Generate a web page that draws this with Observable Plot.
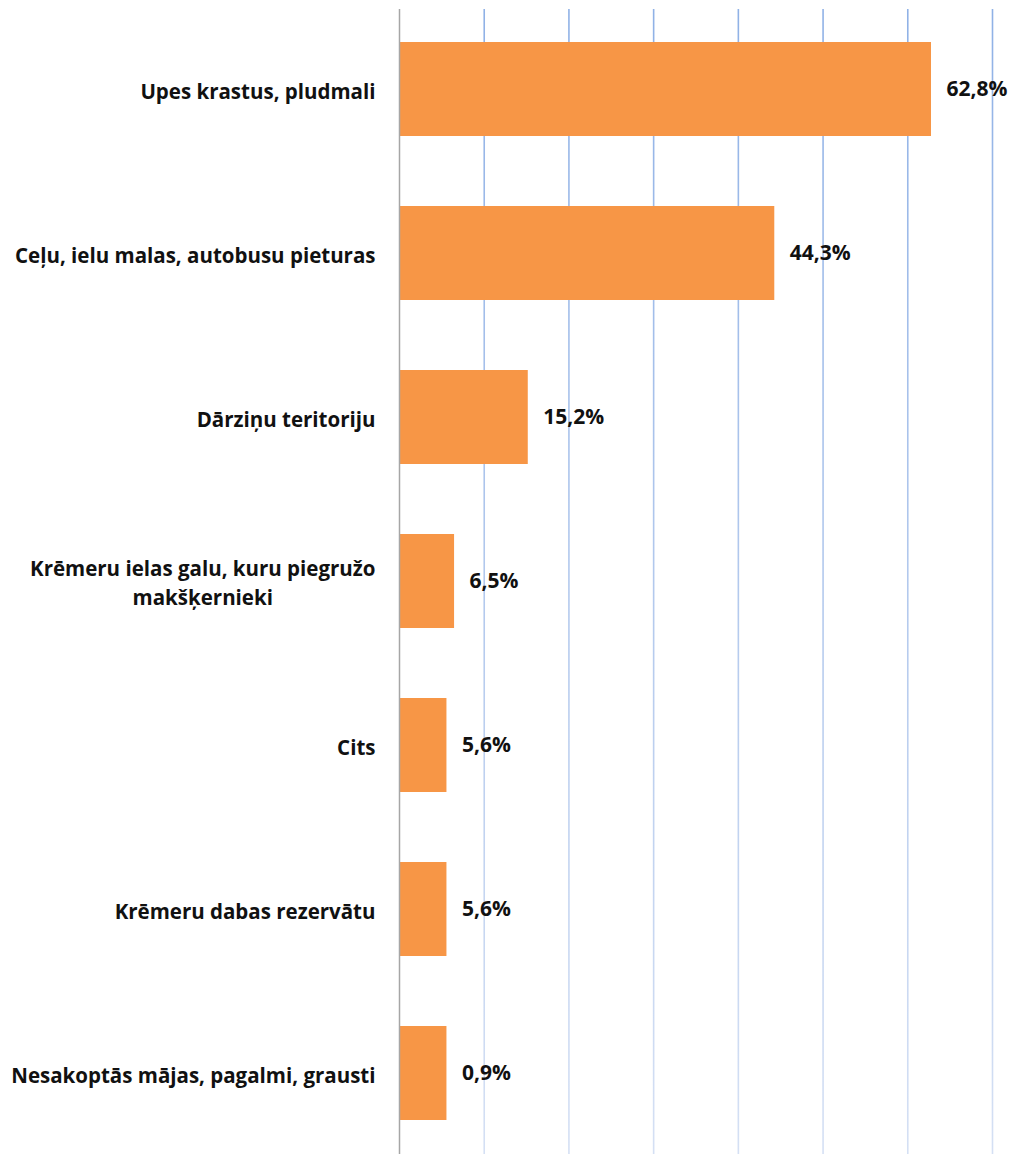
<!DOCTYPE html>
<html>
<head>
<meta charset="utf-8">
<script src="https://cdn.jsdelivr.net/npm/d3@7"></script>
<script src="https://cdn.jsdelivr.net/npm/@observablehq/plot@0.6"></script>
<style>
  html, body { margin: 0; padding: 0; background: #fff; }
  #chart svg { display: block; }
</style>
</head>
<body>
<div id="chart"></div>
<script>
const categories = [
  "Upes krastus, pludmali",
  "Ceļu, ielu malas, autobusu pieturas",
  "Dārziņu teritoriju",
  "Krēmeru ielas galu, kuru piegružo\nmakšķernieki",
  "Cits",
  "Krēmeru dabas rezervātu",
  "Nesakoptās mājas, pagalmi, grausti"
];
const barValues = [62.8, 44.3, 15.2, 6.5, 5.6, 5.6, 5.6];
const valueLabels = ["62,8%", "44,3%", "15,2%", "6,5%", "5,6%", "5,6%", "0,9%"];
const gridTicks = [10, 20, 30, 40, 50, 60, 70];

const data = categories.map((c, i) => ({cat: c, value: barValues[i], label: valueLabels[i]}));
const font = "'Open Sans', sans-serif";

const chart = Plot.plot({
  width: 1018,
  height: 1154,
  marginLeft: 399,
  marginRight: 26,
  marginTop: 9,
  marginBottom: 0,
  style: {fontFamily: font, background: "#fff"},
  x: {domain: [0, 70], axis: null},
  y: {domain: categories, axis: null, paddingInner: 0.426, paddingOuter: 0.2},
  marks: [
    Plot.ruleX(gridTicks, {stroke: "url(#gridGrad)", strokeWidth: 1.6}),
    Plot.barX(data, {x: "value", y: "cat", fill: "#f79646"}),
    Plot.ruleX([0], {stroke: "#a6a6a6", strokeWidth: 1.5}),
    Plot.text(data, {x: "value", y: "cat", text: "label", textAnchor: "start", dx: 15,
      fontSize: 21, fontWeight: "bold", fill: "#111"}),
    Plot.text(data, {x: 0, y: "cat", text: "cat", textAnchor: "end", dx: -24,
      fontSize: 20.5, fontWeight: "bold", fill: "#111", lineHeight: 1.37, className: "ylab"})
  ]
});

// gradient for grid lines (bluer at top, paler at bottom)
const defs = document.createElementNS("http://www.w3.org/2000/svg", "defs");
defs.innerHTML = `<linearGradient id="gridGrad" gradientUnits="userSpaceOnUse" x1="0" y1="0" x2="0" y2="1154">
  <stop offset="0" stop-color="#8fb1e6"/>
  <stop offset="1" stop-color="#d5e0f4"/>
</linearGradient>`;
chart.insertBefore(defs, chart.firstChild);

document.getElementById("chart").appendChild(chart);

// center multi-line category labels (like the reference)
chart.querySelectorAll("g.ylab text").forEach(t => {
  const spans = t.querySelectorAll("tspan");
  if (spans.length > 1) {
    const bb = t.getBBox();
    const center = bb.x + bb.width / 2;
    t.setAttribute("text-anchor", "middle");
    const cur = t.getBBox();
    const shift = center - (cur.x + cur.width / 2);
    const tr = t.getAttribute("transform") || "";
    t.setAttribute("transform", tr + ` translate(${shift},0)`);
  }
});
</script>
</body>
</html>
